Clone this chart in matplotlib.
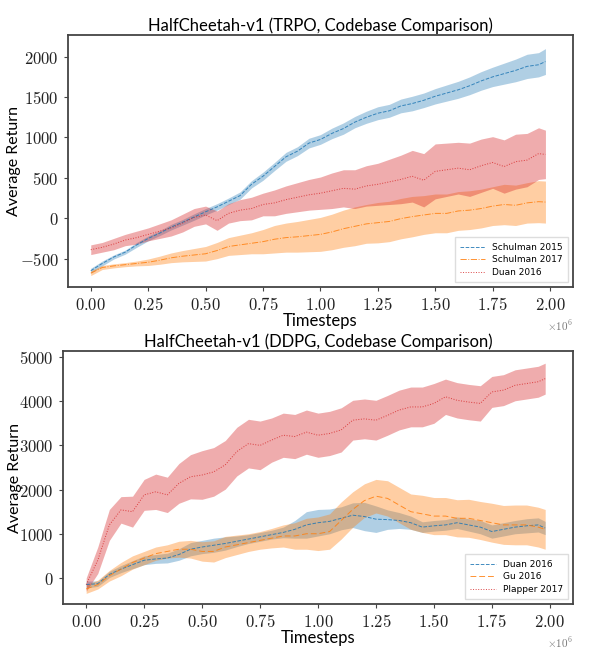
import matplotlib
matplotlib.use('Agg')
import matplotlib.pyplot as plt
from matplotlib.ticker import FuncFormatter, FixedLocator

plt.rcParams['mathtext.fontset'] = 'cm'

# timesteps (millions)
steps = [0.00, 0.05, 0.10, 0.15, 0.20, 0.25, 0.30, 0.35, 0.40, 0.45,
         0.50, 0.55, 0.60, 0.65, 0.70, 0.75, 0.80, 0.85, 0.90, 0.95,
         1.00, 1.05, 1.10, 1.15, 1.20, 1.25, 1.30, 1.35, 1.40, 1.45,
         1.50, 1.55, 1.60, 1.65, 1.70, 1.75, 1.80, 1.85, 1.90, 1.95, 1.98]

# ---- TRPO ----
trpo_schulman15 = [-650, -560, -480, -420, -330, -250, -185, -110, -50, 15,
                   80, 140, 210, 280, 420, 520, 640, 760, 830, 930,
                   975, 1050, 1110, 1190, 1250, 1300, 1330, 1390, 1420, 1460,
                   1510, 1550, 1590, 1640, 1700, 1750, 1790, 1830, 1880, 1900, 1940]
trpo_schulman15_sd = [30, 30, 25, 25, 30, 30, 30, 35, 35, 40,
                      40, 40, 40, 45, 45, 50, 50, 55, 55, 60,
                      60, 65, 70, 70, 75, 80, 80, 85, 90, 90,
                      95, 100, 105, 110, 115, 120, 130, 140, 150, 150, 160]
trpo_schulman17 = [-680, -610, -590, -575, -560, -545, -520, -490, -470, -455,
                   -440, -400, -350, -330, -310, -290, -260, -240, -230, -215,
                   -200, -170, -130, -100, -70, -55, -40, -5, 20, 40,
                   60, 60, 90, 100, 120, 150, 170, 160, 190, 205, 200]
trpo_schulman17_sd = [30, 25, 25, 25, 30, 40, 50, 60, 70, 80,
                      90, 100, 110, 120, 130, 150, 170, 180, 190, 200,
                      210, 220, 230, 240, 240, 250, 250, 250, 250, 240,
                      240, 240, 240, 240, 240, 240, 250, 250, 250, 260, 260]
trpo_duan16 = [-390, -360, -320, -270, -240, -200, -160, -120, -60, 10,
               40, -30, 60, 100, 120, 170, 190, 230, 260, 290,
               310, 340, 370, 360, 400, 420, 450, 480, 520, 470,
               580, 600, 620, 600, 650, 690, 640, 700, 720, 800, 790]
trpo_duan16_sd = [60, 60, 70, 70, 80, 80, 90, 100, 110, 110,
                  110, 120, 120, 130, 140, 140, 160, 170, 180, 190,
                  200, 220, 230, 240, 250, 260, 280, 300, 320, 330,
                  340, 330, 320, 330, 330, 320, 330, 340, 330, 320, 300]

# ---- DDPG ----
ddpg_duan16 = [-150, -130, 80, 200, 300, 400, 430, 450, 530, 650,
               700, 740, 780, 830, 880, 930, 980, 1030, 1100, 1200,
               1250, 1280, 1350, 1420, 1390, 1330, 1320, 1300, 1250, 1150,
               1180, 1200, 1250, 1200, 1150, 1050, 1100, 1150, 1180, 1200, 1130]
ddpg_duan16_sd = [80, 60, 70, 80, 90, 100, 100, 110, 130, 150,
                  150, 160, 150, 120, 100, 100, 100, 120, 200, 300,
                  300, 280, 260, 280, 320, 300, 220, 180, 150, 120,
                  120, 120, 130, 140, 150, 150, 150, 150, 160, 160, 150]
ddpg_gu16 = [-250, -150, 50, 200, 350, 450, 550, 600, 650, 650,
             600, 600, 700, 750, 800, 850, 900, 950, 950, 1000,
             1000, 1050, 1300, 1550, 1750, 1850, 1800, 1650, 1500, 1450,
             1400, 1400, 1350, 1350, 1300, 1250, 1200, 1200, 1200, 1150, 1100]
ddpg_gu16_sd = [100, 100, 120, 150, 150, 150, 150, 150, 180, 200,
                220, 240, 240, 220, 200, 200, 220, 250, 300, 350,
                380, 400, 420, 400, 380, 380, 400, 400, 400, 420,
                420, 420, 420, 430, 430, 440, 440, 450, 450, 450, 450]
ddpg_plapper17 = [-150, 400, 1200, 1540, 1500, 1880, 1950, 1880, 2140, 2290,
                  2330, 2400, 2560, 2860, 3040, 3000, 3120, 3230, 3200, 3300,
                  3230, 3270, 3350, 3570, 3600, 3570, 3680, 3800, 3870, 3870,
                  3950, 4100, 4020, 3980, 3950, 4210, 4250, 4360, 4400, 4440, 4510]
ddpg_plapper17_sd = [150, 300, 350, 300, 350, 350, 400, 400, 450, 500,
                     550, 550, 550, 550, 550, 550, 500, 500, 500, 500,
                     500, 500, 500, 450, 450, 450, 450, 450, 450, 450,
                     450, 400, 400, 400, 400, 350, 350, 350, 350, 350, 350]

timesteps = [s * 1e6 for s in steps]

BLUE = '#1f77b4'
ORANGE = '#ff7f0e'
RED = '#d62728'


def band(ax, mean, sd, color, ls, label, alpha=0.38):
    lo = [m - d for m, d in zip(mean, sd)]
    hi = [m + d for m, d in zip(mean, sd)]
    ax.fill_between(timesteps, lo, hi, color=color, alpha=alpha, lw=0)
    ax.plot(timesteps, mean, color=color, ls=ls, lw=0.7, alpha=0.85, label=label)


def style(ax, title, yticks, ylim):
    ax.set_xlim(-0.1e6, 2.1e6)
    ax.set_ylim(*ylim)
    ax.xaxis.set_major_locator(FixedLocator([0, 0.25e6, 0.5e6, 0.75e6, 1e6,
                                             1.25e6, 1.5e6, 1.75e6, 2e6]))
    ax.yaxis.set_major_locator(FixedLocator(yticks))
    ax.xaxis.set_major_formatter(FuncFormatter(lambda v, p: r'$\mathrm{%.2f}$' % (v / 1e6)))
    ax.yaxis.set_major_formatter(FuncFormatter(lambda v, p: r'$\mathrm{%d}$' % v))
    ax.tick_params(labelsize=12, length=3, width=0.8, color='#444444', labelcolor='#222222')
    for sp in ax.spines.values():
        sp.set_color('#444444')
        sp.set_linewidth(1.3)
    ax.set_title(title, fontsize=12, family='Lato', pad=3)
    ax.set_xlabel('Timesteps', fontsize=12, family='Lato', labelpad=-1)
    ax.set_ylabel('Average Return', fontsize=11.5, family='Lato')
    ax.text(1.0, -0.125, r'$\times10^{6}$', transform=ax.transAxes, fontsize=8,
            color='#777777', ha='right', va='top')
    ax.legend(loc='lower right', fontsize=6.5, frameon=True, framealpha=1,
              edgecolor='#dddddd', fancybox=False, handlelength=2.8,
              borderpad=0.6, labelspacing=0.4)


fig = plt.figure(figsize=(6.0, 6.52), dpi=100)

ax1 = fig.add_axes([0.113, 0.560, 0.842, 0.3865])
band(ax1, trpo_schulman15, trpo_schulman15_sd, BLUE, '--', 'Schulman 2015', alpha=0.35)
band(ax1, trpo_schulman17, trpo_schulman17_sd, ORANGE, '-.', 'Schulman 2017', alpha=0.38)
band(ax1, trpo_duan16, trpo_duan16_sd, RED, ':', 'Duan 2016', alpha=0.38)
style(ax1, 'HalfCheetah-v1 (TRPO, Codebase Comparison)',
      [-500, 0, 500, 1000, 1500, 2000], (-850, 2270))
ax1.yaxis.set_label_coords(-0.093, 0.5)

ax2 = fig.add_axes([0.105, 0.0736, 0.85, 0.388])
band(ax2, ddpg_duan16, ddpg_duan16_sd, BLUE, '--', 'Duan 2016', alpha=0.35)
band(ax2, ddpg_gu16, ddpg_gu16_sd, ORANGE, (0, (6, 3)), 'Gu 2016', alpha=0.38)
band(ax2, ddpg_plapper17, ddpg_plapper17_sd, RED, ':', 'Plapper 2017', alpha=0.38)
style(ax2, 'HalfCheetah-v1 (DDPG, Codebase Comparison)',
      [0, 1000, 2000, 3000, 4000, 5000], (-590, 5135))
ax2.yaxis.set_label_coords(-0.08, 0.5)

fig.savefig('out.png', dpi=100)
